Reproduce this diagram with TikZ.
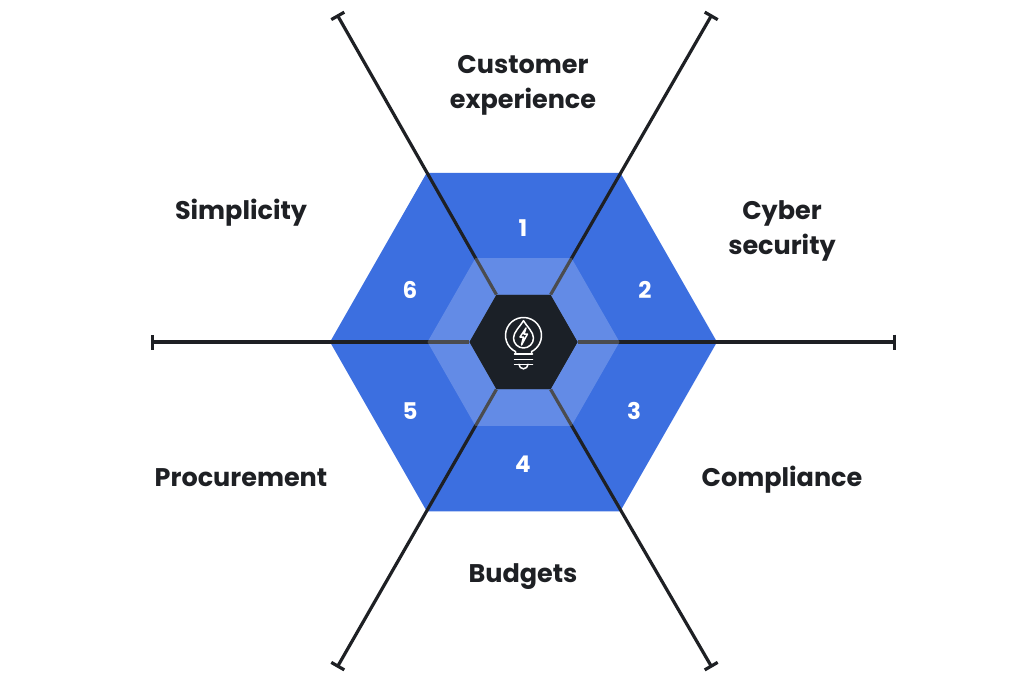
\documentclass[tikz,border=0pt]{standalone}
\usepackage{fontspec}
\setmainfont{Poppins}
\usetikzlibrary{arrows.meta, shapes.geometric}

\definecolor{hexblue}{HTML}{3C6FE0}
\definecolor{hexdark}{HTML}{1B2027}
\definecolor{inkdark}{HTML}{1E2024}

\begin{document}
\begin{tikzpicture}[x=1pt, y=-1pt,
  hexagon/.style={regular polygon, regular polygon sides=6, inner sep=0pt},
  outerhex/.style={hexagon, fill=hexblue, minimum size=387pt, yscale=1.01},
  middlehex/.style={hexagon, fill=white, fill opacity=0.2, minimum size=192pt, yscale=1.01},
  corehex/.style={hexagon, fill=hexdark, minimum size=108pt, yscale=1.01},
  spoke/.style={draw=inkdark, line width=3.2pt, -{Bar[width=15pt, line width=3.2pt]}},
  topic/.style={font=\fontsize{25.5}{35}\selectfont\bfseries, text=inkdark, align=center},
  number/.style={font=\fontsize{23}{28}\selectfont\bfseries, text=white},
  bulbline/.style={draw=white, line width=1.5pt, line cap=round, line join=round}]

  \useasboundingbox (0,0) rectangle (1024,683);
  \fill [white] (0,0) rectangle (1024,683);

  % Hexagono exterior
  \node [outerhex] (outer) at (523.5,342) {};

  % Extremos libres de los radios
  \coordinate (endnw) at (337,14.5);
  \coordinate (endne) at (712,14.5);
  \coordinate (endw) at (151,342);
  \coordinate (ende) at (896,342);
  \coordinate (endsw) at (337,667.5);
  \coordinate (endse) at (712,667.5);

  % Nucleo (solo para las esquinas), radios y capas
  \node [corehex] (core) at (523.5,342) {};
  \draw [spoke] (core.corner 2) -- (endnw);
  \draw [spoke] (core.corner 1) -- (endne);
  \draw [spoke] (core.corner 3) -- (endw);
  \draw [spoke] (core.corner 6) -- (ende);
  \draw [spoke] (core.corner 4) -- (endsw);
  \draw [spoke] (core.corner 5) -- (endse);
  \node [middlehex] (middle) at (523.5,342) {};
  \node [corehex] (corefront) at (523.5,342) {};

  % Bombilla
  \begin{scope}[shift={(523.5,342)}]
    \draw [bulbline] (-8,12) -- (-8,9.6) arc[start angle=116.4, end angle=423.6, radius=18] -- (8,12);
    \draw [bulbline] (0,-21.3) .. controls (-3,-16) and (-10,-10) .. (-10,-4)
      arc[start angle=180, end angle=0, radius=10] .. controls (10,-10) and (3,-16) .. cycle;
    \draw [bulbline] (2.5,-14) -- (-3.5,-5) -- (0,-5) -- (-2,3) -- (4,-8) -- (0.5,-8) -- cycle;
    \draw [bulbline] (-9,12) -- (9,12);
    \draw [bulbline] (-9,17.3) -- (9,17.3);
    \draw [bulbline] (-9,22.3) -- (9,22.3);
    \draw [bulbline] (-4.5,22.3) arc[start angle=180, end angle=0, radius=4.5];
  \end{scope}

  % Numeros
  \node [number] (num1) at (523,228) {1};
  \node [number] (num2) at (645,290) {2};
  \node [number] (num3) at (634,411) {3};
  \node [number] (num4) at (523,464) {4};
  \node [number] (num5) at (410,411) {5};
  \node [number] (num6) at (410,290) {6};

  % Etiquetas
  \node [topic] (customer) at (523,85) {Customer\\experience};
  \node [topic] (cyber) at (782,231) {Cyber\\security};
  \node [topic] (compliance) at (782,480) {Compliance};
  \node [topic] (budgets) at (523,577) {Budgets};
  \node [topic] (procurement) at (241,478) {Procurement};
  \node [topic] (simplicity) at (241,213) {Simplicity};
\end{tikzpicture}
\end{document}
